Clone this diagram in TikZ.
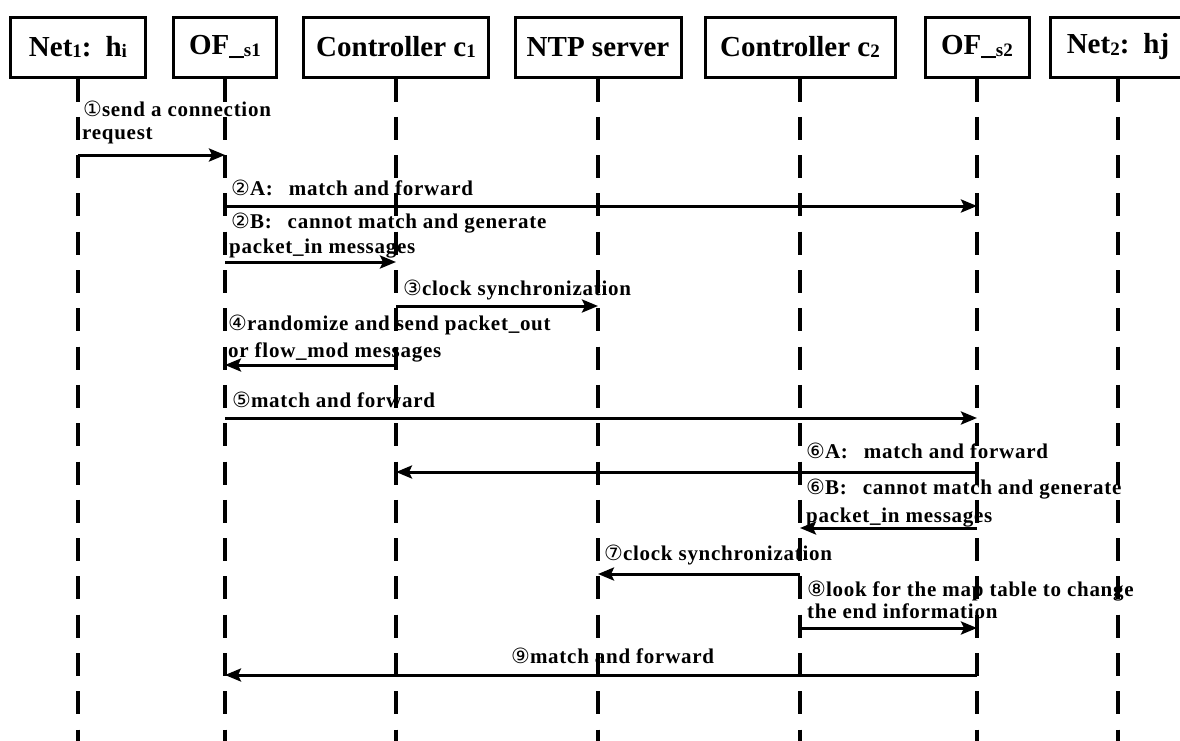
\documentclass[tikz,border=0pt]{standalone}
\usepackage{fontspec}
\setmainfont{Liberation Serif}
\newfontfamily\lblfont[LetterSpace=3.5]{Liberation Serif}
\newfontfamily\circfont{DejaVu Sans}
\usetikzlibrary{arrows.meta}
\newcommand\sm[1]{\raisebox{-1.5pt}{\fontsize{19}{19}\selectfont #1}}
\newcommand\cn[1]{{\circfont\mdseries\fontsize{21}{22}\selectfont #1}}
\begin{document}
\begin{tikzpicture}[x=1pt,y=-1pt,
  hdr/.style={draw, line width=3pt, minimum height=60pt, inner sep=0pt,
    font=\fontsize{29}{34}\selectfont\bfseries},
  life/.style={line width=4pt, dash pattern=on 23pt off 15.3pt},
  msg/.style={line width=3pt, -{Stealth[length=16pt,width=13pt,inset=3pt]}},
  lbl/.style={anchor=base west, inner sep=0pt,
    font=\lblfont\fontsize{21}{24}\selectfont\bfseries}]
\useasboundingbox (0,0) rectangle (1180,740);
\clip (0,0) rectangle (1180,740);

% headers
\node[hdr, minimum width=135pt] (net1) at (78,47) {Net\sm{1}:\hspace{14pt}h\sm{i}};
\node[hdr, minimum width=103pt] (ofs1) at (225,47) {OF\_\sm{s1}};
\node[hdr, minimum width=185pt] (c1) at (396,47) {Controller c\sm{1}};
\node[hdr, minimum width=166pt] (ntp) at (598,47) {NTP server};
\node[hdr, minimum width=190pt] (c2) at (800,47) {Controller c\sm{2}};
\node[hdr, minimum width=104pt] (ofs2) at (977,47) {OF\_\sm{s2}};
\node[hdr, minimum width=136pt] (net2) at (1118,47) {Net\sm{2}:\hspace{14pt}hj};

% lifelines
\coordinate (bot) at (0,748);
\foreach \n in {net1,ofs1,c1,ntp,c2,ofs2,net2}
  \draw[life] (\n.south) -- (\n.south |- bot);

% message rows
\coordinate (m1) at (0,155);
\coordinate (m2a) at (0,206);
\coordinate (m2b) at (0,262);
\coordinate (m3) at (0,306);
\coordinate (m4) at (0,365);
\coordinate (m5) at (0,418);
\coordinate (m6a) at (0,472);
\coordinate (m6b) at (0,528);
\coordinate (m7) at (0,574);
\coordinate (m8) at (0,628);
\coordinate (m9) at (0,675);

% messages
\draw[msg] (net1 |- m1) -- (ofs1 |- m1);
\draw[msg] (ofs1 |- m2a) -- (ofs2 |- m2a);
\draw[msg] (ofs1 |- m2b) -- (c1 |- m2b);
\draw[msg] (c1 |- m3) -- (ntp |- m3);
\draw[msg] (c1 |- m4) -- (ofs1 |- m4);
\draw[msg] (ofs1 |- m5) -- (ofs2 |- m5);
\draw[msg] (ofs2 |- m6a) -- (c1 |- m6a);
\draw[msg] (ofs2 |- m6b) -- (c2 |- m6b);
\draw[msg] (c2 |- m7) -- (ntp |- m7);
\draw[msg] (c2 |- m8) -- (ofs2 |- m8);
\draw[msg] (ofs2 |- m9) -- (ofs1 |- m9);

% labels
\node[lbl] (t1a) at (83,116) {\cn{①}send a connection};
\node[lbl] (t1b) at (82,139) {request};
\node[lbl] (t2a) at (231,195) {\cn{②}A:\hspace{16pt}match and forward};
\node[lbl] (t2b1) at (231,228) {\cn{②}B:\hspace{16pt}cannot match and generate};
\node[lbl] (t2b2) at (229,253) {packet\_in messages};
\node[lbl] (t3) at (403,295) {\cn{③}clock synchronization};
\node[lbl] (t4a) at (228,330) {\cn{④}randomize and send packet\_out};
\node[lbl] (t4b) at (228,357) {or flow\_mod messages};
\node[lbl] (t5) at (232,407) {\cn{⑤}match and forward};
\node[lbl] (t6a) at (806,458) {\cn{⑥}A:\hspace{16pt}match and forward};
\node[lbl] (t6b1) at (806,494) {\cn{⑥}B:\hspace{16pt}cannot match and generate};
\node[lbl] (t6b2) at (806,522) {packet\_in messages};
\node[lbl] (t7) at (604,560) {\cn{⑦}clock synchronization};
\node[lbl] (t8a) at (807,596) {\cn{⑧}look for the map table to change};
\node[lbl] (t8b) at (807,618) {the end information};
\node[lbl] (t9) at (511,663) {\cn{⑨}match and forward};
\end{tikzpicture}
\end{document}
